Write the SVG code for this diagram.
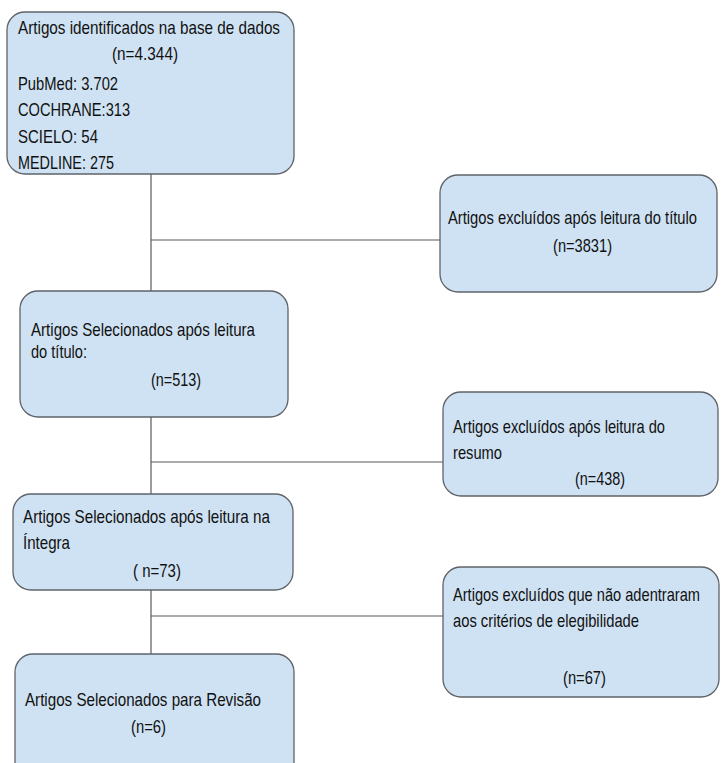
<svg xmlns="http://www.w3.org/2000/svg" width="721" height="763" viewBox="0 0 721 763">
<style>
.box{fill:#cfe2f3;stroke:#5f6368;stroke-width:1.3}
.t{font-family:"Liberation Sans",Arial,sans-serif;font-size:18px;fill:#111}
.c{stroke:#595959;stroke-width:1.2;fill:none}
</style>
<rect width="721" height="763" fill="#ffffff"/>
<g id="connectors">
<line class="c" x1="151" y1="174" x2="151" y2="291"/>
<line class="c" x1="151" y1="240" x2="440" y2="240"/>
<line class="c" x1="151" y1="417" x2="151" y2="494"/>
<line class="c" x1="151" y1="462" x2="443" y2="462"/>
<line class="c" x1="151" y1="590" x2="151" y2="654"/>
<line class="c" x1="151" y1="616" x2="443" y2="616"/>
</g>
<g id="n1">
<rect class="box" x="7" y="12" width="287" height="162" rx="18"/>
<text class="t" transform="translate(18 34) scale(0.82 1)" textLength="319.5" lengthAdjust="spacingAndGlyphs">Artigos identificados na base de dados</text>
<text class="t" transform="translate(112 60) scale(0.82 1)" textLength="80.5" lengthAdjust="spacingAndGlyphs">(n=4.344)</text>
<text class="t" transform="translate(18 90) scale(0.82 1)" textLength="122" lengthAdjust="spacingAndGlyphs">PubMed: 3.702</text>
<text class="t" transform="translate(18 116) scale(0.82 1)" textLength="136.6" lengthAdjust="spacingAndGlyphs">COCHRANE:313</text>
<text class="t" transform="translate(18 143) scale(0.82 1)" textLength="97.6" lengthAdjust="spacingAndGlyphs">SCIELO: 54</text>
<text class="t" transform="translate(18 169) scale(0.82 1)" textLength="117" lengthAdjust="spacingAndGlyphs">MEDLINE: 275</text>
</g>
<g id="n2">
<rect class="box" x="440" y="175" width="277" height="117" rx="18"/>
<text class="t" transform="translate(448 224) scale(0.82 1)" textLength="303.7" lengthAdjust="spacingAndGlyphs">Artigos excluídos após leitura do título</text>
<text class="t" transform="translate(553 252) scale(0.82 1)" textLength="72" lengthAdjust="spacingAndGlyphs">(n=3831)</text>
</g>
<g id="n3">
<rect class="box" x="20" y="291" width="268" height="126" rx="18"/>
<text class="t" transform="translate(31 336) scale(0.82 1)" textLength="273.2" lengthAdjust="spacingAndGlyphs">Artigos Selecionados após leitura</text>
<text class="t" transform="translate(31 358) scale(0.82 1)" textLength="68.3" lengthAdjust="spacingAndGlyphs">do título:</text>
<text class="t" transform="translate(151 386) scale(0.82 1)" textLength="61" lengthAdjust="spacingAndGlyphs">(n=513)</text>
</g>
<g id="n4">
<rect class="box" x="443" y="392" width="275" height="104" rx="18"/>
<text class="t" transform="translate(453 433) scale(0.82 1)" textLength="258.5" lengthAdjust="spacingAndGlyphs">Artigos excluídos após leitura do</text>
<text class="t" transform="translate(453 459) scale(0.82 1)" textLength="59.8" lengthAdjust="spacingAndGlyphs">resumo</text>
<text class="t" transform="translate(575 485) scale(0.82 1)" textLength="61" lengthAdjust="spacingAndGlyphs">(n=438)</text>
</g>
<g id="n5">
<rect class="box" x="13" y="494" width="280" height="96" rx="18"/>
<text class="t" transform="translate(23 523) scale(0.82 1)" textLength="301.2" lengthAdjust="spacingAndGlyphs">Artigos Selecionados após leitura na</text>
<text class="t" transform="translate(23 549) scale(0.82 1)" textLength="57.3" lengthAdjust="spacingAndGlyphs">Íntegra</text>
<text class="t" transform="translate(133 577) scale(0.82 1)" textLength="58.5" lengthAdjust="spacingAndGlyphs">( n=73)</text>
</g>
<g id="n6">
<rect class="box" x="443" y="567" width="276" height="130" rx="18"/>
<text class="t" transform="translate(453 601) scale(0.82 1)" textLength="301.2" lengthAdjust="spacingAndGlyphs">Artigos excluídos que não adentraram</text>
<text class="t" transform="translate(453 627) scale(0.82 1)" textLength="226.8" lengthAdjust="spacingAndGlyphs">aos critérios de elegibilidade</text>
<text class="t" transform="translate(563 684) scale(0.82 1)" textLength="52.4" lengthAdjust="spacingAndGlyphs">(n=67)</text>
</g>
<g id="n7">
<rect class="box" x="15" y="654" width="279" height="130" rx="18"/>
<text class="t" transform="translate(25 706) scale(0.82 1)" textLength="287.8" lengthAdjust="spacingAndGlyphs">Artigos Selecionados para Revisão</text>
<text class="t" transform="translate(131 733) scale(0.82 1)" textLength="42.7" lengthAdjust="spacingAndGlyphs">(n=6)</text>
</g>
</svg>
